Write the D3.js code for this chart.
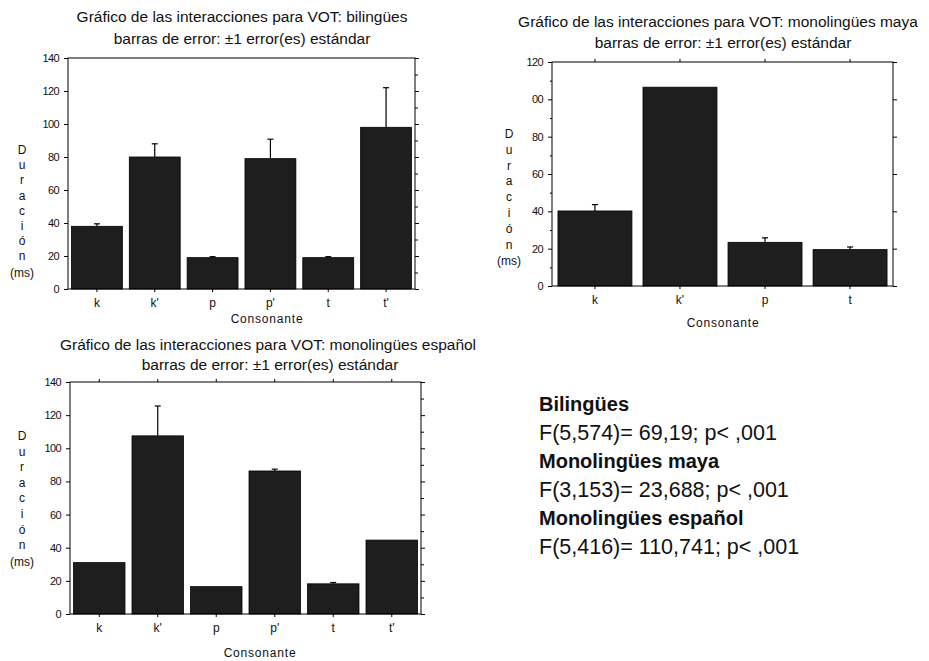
<!DOCTYPE html>
<html>
<head>
<meta charset="utf-8">
<script src="https://cdn.jsdelivr.net/npm/d3@7"></script>
<style>
  body { margin: 0; background: #fff; }
  svg { display: block; }
  text { font-family: "Liberation Sans", Arial, sans-serif; fill: #111; }
</style>
</head>
<body>
<svg id="chart" width="929" height="661"></svg>
<script>
// ---- Data ----
const catsBil = ["k", "k'", "p", "p'", "t", "t'"];
const meanBil = [38, 80, 19, 79, 19, 98];
const seBil   = [1.5, 8, 0.6, 11.8, 0.6, 24];

const catsMaya = ["k", "k'", "p", "t"];
const meanMaya = [40.2, 106.5, 23.4, 19.5];
const seMaya   = [3.4, 0, 2.4, 1.4];

const catsEsp = ["k", "k'", "p", "p'", "t", "t'"];
const meanEsp = [31, 107.5, 16.5, 86.3, 18.2, 44.6];
const seEsp   = [0, 18, 0, 1.1, 0.8, 0];

const ticks140 = [0, 20, 40, 60, 80, 100, 120, 140];
const labels140 = ["0", "20", "40", "60", "80", "100", "120", "140"];
const ticks120 = [0, 20, 40, 60, 80, 100, 120];
const labels120 = ["0", "20", "40", "60", "80", "00", "120"];

const title1 = "Gráfico de las interacciones para VOT: bilingües";
const title2 = "Gráfico de las interacciones para VOT: monolingües maya";
const title3 = "Gráfico de las interacciones para VOT: monolingües español";
const subtitle = "barras de error: ±1 error(es) estándar";
const xTitle = "Consonante";
const yTitleLetters = ["D", "u", "r", "a", "c", "i", "ó", "n", "(ms)"];

const statLines = [
  { text: "Bilingües", bold: true },
  { text: "F(5,574)= 69,19; p< ,001", bold: false },
  { text: "Monolingües maya", bold: true },
  { text: "F(3,153)= 23,688; p< ,001", bold: false },
  { text: "Monolingües español", bold: true },
  { text: "F(5,416)= 110,741; p< ,001", bold: false }
];

// ---- Drawing ----
const svg = d3.select("#chart");

function drawChart(cfg) {
  const g = svg.append("g");
  const x = d3.scaleBand().domain(cfg.cats).range([cfg.left, cfg.right])
    .paddingInner(cfg.pi).paddingOuter(cfg.po);
  const y = d3.scaleLinear().domain([0, cfg.max]).range([cfg.bottom, cfg.top]);

  // titles
  g.append("text").attr("x", cfg.tx1).attr("y", cfg.ty1).attr("text-anchor", "middle")
    .style("font-size", "15.5px").text(cfg.title);
  g.append("text").attr("x", cfg.tx2).attr("y", cfg.ty2).attr("text-anchor", "middle")
    .style("font-size", "15.5px").text(subtitle);

  // bars
  const data = cfg.cats.map((c, i) => ({ c, m: cfg.mean[i], se: cfg.se[i] }));
  g.selectAll("rect.bar").data(data).join("rect").attr("class", "bar")
    .attr("x", d => x(d.c)).attr("width", x.bandwidth())
    .attr("y", d => y(d.m)).attr("height", d => y(0) - y(d.m))
    .attr("fill", "#1e1e1e").attr("stroke", "#000").attr("stroke-width", 0.8);

  // error bars
  const eb = data.filter(d => d.se > 0);
  g.selectAll("line.err").data(eb).join("line").attr("class", "err")
    .attr("x1", d => x(d.c) + x.bandwidth() / 2).attr("x2", d => x(d.c) + x.bandwidth() / 2)
    .attr("y1", d => y(d.m)).attr("y2", d => y(d.m + d.se))
    .attr("stroke", "#000").attr("stroke-width", 1.2);
  g.selectAll("line.cap").data(eb).join("line").attr("class", "cap")
    .attr("x1", d => x(d.c) + x.bandwidth() / 2 - 3).attr("x2", d => x(d.c) + x.bandwidth() / 2 + 3)
    .attr("y1", d => y(d.m + d.se)).attr("y2", d => y(d.m + d.se))
    .attr("stroke", "#000").attr("stroke-width", 1.2);

  // frame
  g.append("rect").attr("x", cfg.left).attr("y", cfg.top)
    .attr("width", cfg.right - cfg.left).attr("height", cfg.bottom - cfg.top)
    .attr("fill", "none").attr("stroke", "#000").attr("stroke-width", 1);

  // axes
  const minors = d3.range(10, cfg.max, 20);
  const left = g.append("g").attr("transform", `translate(${cfg.left},0)`)
    .call(d3.axisLeft(y).tickValues(cfg.ticks).tickFormat((d, i) => cfg.labels[i])
      .tickSize(4).tickPadding(5));
  left.selectAll("text").style("font-size", "11px").style("font-family", "'Liberation Sans', Arial, sans-serif").attr("fill", "#000").attr("letter-spacing", "-0.6px");
  if (cfg.leftMinor) {
    g.append("g").attr("transform", `translate(${cfg.left},0)`)
      .call(d3.axisLeft(y).tickValues(minors).tickFormat("").tickSize(2));
  }
  g.append("g").attr("transform", `translate(${cfg.right},0)`)
    .call(d3.axisRight(y).tickValues(cfg.ticks).tickFormat("").tickSize(4));
  if (cfg.rightMinor) {
    g.append("g").attr("transform", `translate(${cfg.right},0)`)
      .call(d3.axisRight(y).tickValues(minors).tickFormat("").tickSize(3));
  }
  const bottom = g.append("g").attr("transform", `translate(0,${cfg.bottom})`)
    .call(d3.axisBottom(x).tickSize(3).tickPadding(6));
  bottom.selectAll("text").style("font-size", "12px").style("font-family", "'Liberation Sans', Arial, sans-serif").attr("fill", "#000");
  if (cfg.topTicks) {
    g.append("g").attr("transform", `translate(0,${cfg.top})`)
      .call(d3.axisTop(x).tickSize(3).tickFormat(""));
  }
  g.selectAll(".domain").remove();
  g.selectAll(".tick line").attr("stroke", "#000");

  // axis titles
  g.append("text").attr("x", cfg.xtx).attr("y", cfg.xty).attr("text-anchor", "middle")
    .style("font-size", "12px").attr("letter-spacing", "0.8px").text(xTitle);
  g.selectAll("text.ylet").data(yTitleLetters).join("text").attr("class", "ylet")
    .attr("x", cfg.ytx).attr("y", (d, i) => cfg.yty + i * cfg.ydy + (i === yTitleLetters.length - 1 ? 1 : 0))
    .attr("text-anchor", "middle").style("font-size", "12px").text(d => d);
}

drawChart({
  cats: catsBil, mean: meanBil, se: seBil, max: 140, ticks: ticks140, labels: labels140,
  left: 68, right: 415, top: 58, bottom: 289, pi: 0.12, po: 0.06,
  title: title1, tx1: 242, ty1: 22, tx2: 242, ty2: 44,
  xtx: 267, xty: 323, ytx: 22, yty: 154, ydy: 15.2,
  leftMinor: false, rightMinor: true, topTicks: false
});

drawChart({
  cats: catsMaya, mean: meanMaya, se: seMaya, max: 120, ticks: ticks120, labels: labels120,
  left: 552, right: 893, top: 62, bottom: 286, pi: 0.13, po: 0.07,
  title: title2, tx1: 718, ty1: 27, tx2: 723, ty2: 48,
  xtx: 723, xty: 327, ytx: 509, yty: 138, ydy: 15.8,
  leftMinor: true, rightMinor: false, topTicks: true
});

drawChart({
  cats: catsEsp, mean: meanEsp, se: seEsp, max: 140, ticks: ticks140, labels: labels140,
  left: 70, right: 421, top: 382, bottom: 614, pi: 0.12, po: 0.06,
  title: title3, tx1: 268, ty1: 350, tx2: 270, ty2: 370,
  xtx: 260, xty: 657, ytx: 22, yty: 440, ydy: 15.6,
  leftMinor: false, rightMinor: true, topTicks: true
});

// stats text
svg.selectAll("text.stat").data(statLines).join("text").attr("class", "stat")
  .attr("x", 539).attr("y", (d, i) => 411 + i * 28.6)
  .style("font-size", d => d.bold ? "20px" : "21.5px")
  .style("font-weight", d => d.bold ? "bold" : "normal")
  .attr("fill", d => d.bold ? "#000" : "#333")
  .text(d => d.text);
</script>
</body>
</html>
